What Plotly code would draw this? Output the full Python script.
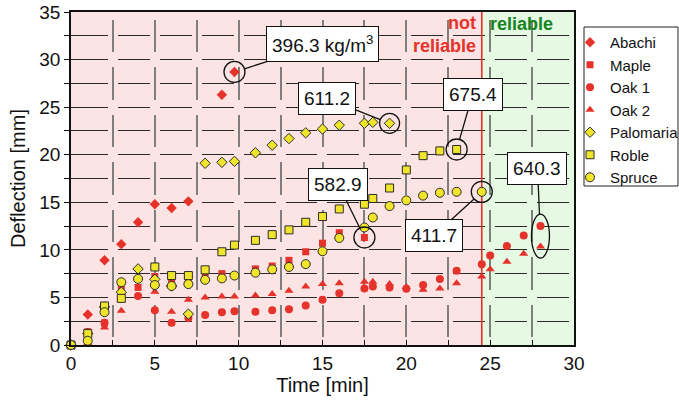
import plotly.graph_objects as go

# ---------------- data ----------------
t_abachi = [0, 1, 2, 3, 4, 5, 6, 7, 9, 9.75]
abachi = [0, 3.2, 8.9, 10.6, 12.9, 14.8, 14.4, 15.1, 26.3, 28.7]

t_maple = [1, 2, 3, 4, 5, 6, 7, 8, 9, 11, 12, 13, 14, 15, 16, 17.5]
maple = [1.4, 2.3, 5.95, 6.05, 7.2, 6.7, 6.8, 7.1, 7.5, 8.0, 8.3, 8.9, 9.8, 10.7, 11.8, 11.3]

t_oak1 = [0, 1, 2, 4, 5, 6, 7, 8, 9, 9.75, 11, 12, 13, 14, 15, 16, 17.5, 18, 19, 20, 21, 22, 23,
          24.5, 25, 26, 27, 28]
oak1 = [0, 0.3, 2.35, 5.15, 3.65, 2.35, 2.85, 3.15, 3.45, 3.55, 3.5, 3.65, 3.75, 4.15, 4.75, 5.45,
        5.95, 6.15, 6.05, 5.9, 6.3, 6.95, 7.8, 8.5, 9.4, 10.4, 11.5, 12.5]

t_oak2 = [0, 1, 2, 3, 5, 6, 7, 8, 9, 9.75, 11, 12, 13, 14, 15, 16, 17.5, 18, 19, 20, 21, 22, 23,
          24.5, 25, 26, 27, 28]
oak2 = [0, 0.2, 1.85, 3.6, 5.6, 3.5, 4.75, 5.0, 5.1, 5.1, 5.2, 5.35, 5.7, 6.15, 6.4, 6.5,
        6.65, 6.65, 6.4, 6.1, 5.8, 5.95, 6.5, 7.2, 7.95, 8.75, 9.6, 10.35]

t_palomaria = [0, 1, 2, 3, 4, 5, 6, 7, 8, 9, 9.75, 11, 12, 13, 14, 15, 16, 17.5, 18, 19]
palomaria = [0, 1.2, 4.0, 5.55, 8.0, 6.9, 6.2, 3.25, 19.1, 19.2, 19.3, 20.2, 21.0, 21.7, 22.3,
             22.7, 23.1, 23.3, 23.4, 23.3]

t_roble = [0, 1, 2, 3, 5, 6, 7, 8, 9, 9.75, 11, 12, 13, 14, 15, 16, 17.5, 18, 19, 20, 21, 22, 23]
roble = [0, 1.2, 4.1, 4.9, 8.2, 7.3, 7.3, 7.9, 9.8, 10.5, 11.0, 11.6, 12.1, 12.9, 13.5, 14.3,
         14.8, 15.4, 16.5, 18.4, 19.9, 20.4, 20.55]

t_spruce = [0, 1, 2, 3, 4, 5, 6, 7, 8, 9, 9.75, 11, 12, 13, 14, 15, 16, 17.5, 18, 19, 20, 21, 22,
            23, 24.5]
spruce = [0, 0.45, 3.45, 6.6, 6.95, 6.3, 6.2, 6.4, 6.85, 7.0, 7.3, 7.6, 7.95, 8.2, 8.5, 9.85,
          11.25, 12.35, 13.4, 14.6, 15.2, 15.7, 16.0, 16.1, 16.1]

reliable_limit = 24.5

# callouts: (x, y, text, ax, ay, half-width px, half-height px)
callouts = [
    (9.75, 28.7, "396.3 kg/m<sup>3</sup>", 88, -28, 10.5, 10.5),
    (19, 23.3, "611.2", -63, -25, 10, 10),
    (23, 20.55, "675.4", 16, -55, 10.5, 10.5),
    (17.5, 11.3, "582.9", -26, -53, 10.5, 10.5),
    (24.5, 16.1, "411.7", -48, 44, 10.5, 10.5),
    (28, 11.45, "640.3", -3, -68, 9, 22),
]

# ---------------- style ----------------
RED = "#e5322a"
YEL = "#f0e52a"
EDGE = "#2b2b2b"
FONT = "Liberation Sans, Arial, Helvetica, sans-serif"
W, H = 679, 403
ML, MR, MT, MB = 71, 105, 12, 58
PW, PH = W - ML - MR, H - MT - MB


def px_to_paper(px, py):
    # page pixel -> paper coordinate
    return (px - ML) / PW, (H - MB - py) / PH


series = [
    ("Abachi", t_abachi, abachi, "diamond", RED, 8, 0),
    ("Maple", t_maple, maple, "square", RED, 7, 0),
    ("Oak 1", t_oak1, oak1, "circle", RED, 8, 0),
    ("Oak 2", t_oak2, oak2, "triangle-up", RED, 8, 0),
    ("Palomaria", t_palomaria, palomaria, "diamond", YEL, 8, 1),
    ("Roble", t_roble, roble, "square", YEL, 8, 1),
    ("Spruce", t_spruce, spruce, "circle", YEL, 9, 1),
]

fig = go.Figure()
for name, xs, ys, sym, col, size, lw in series:
    fig.add_trace(go.Scatter(
        x=xs, y=ys, mode="markers", name=name, cliponaxis=False,
        marker=dict(symbol=sym, color=col, size=size,
                    line=dict(color=EDGE, width=lw)),
    ))

lx0, ly1 = px_to_paper(584, 27)
lx1, ly0 = px_to_paper(678, 186)
shapes = [
    dict(type="rect", xref="x", yref="y", x0=0, x1=reliable_limit, y0=0, y1=35,
         fillcolor="#fde4e4", line_width=0, layer="below"),
    dict(type="rect", xref="x", yref="y", x0=reliable_limit, x1=30, y0=0, y1=35,
         fillcolor="#e5f9e3", line_width=0, layer="below"),
    dict(type="line", xref="x", yref="y", x0=reliable_limit, x1=reliable_limit, y0=0, y1=35,
         line=dict(color=RED, width=1.6), layer="between"),
    # legend frame
    dict(type="rect", xref="paper", yref="paper", x0=lx0, x1=lx1, y0=ly0, y1=ly1,
         line=dict(color="#222", width=1), fillcolor="rgba(0,0,0,0)"),
]
annotations = []
for (cx, cy, txt, ax, ay, rx, ry) in callouts:
    shapes.append(dict(type="circle", xref="x", yref="y", xsizemode="pixel", ysizemode="pixel",
                       xanchor=cx, yanchor=cy, x0=-rx, x1=rx, y0=-ry, y1=ry,
                       line=dict(color="#111", width=1.3), layer="above"))
    annotations.append(dict(x=cx, y=cy, xref="x", yref="y", text=txt, showarrow=True,
                            arrowhead=0, arrowwidth=1.3, arrowcolor="#111", ax=ax, ay=ay,
                            standoff=ry, bgcolor="white", bordercolor="#111", borderwidth=1,
                            borderpad=5, font=dict(family=FONT, size=19, color="#111")))

annotations.append(dict(x=24.3, y=32.6, xref="x", yref="y", text="<b>not<br>reliable</b>",
                        showarrow=False, xanchor="right", yanchor="middle", align="right",
                        font=dict(family=FONT, size=18, color=RED)))
annotations.append(dict(x=24.85, y=33.7, xref="x", yref="y", text="<b>reliable</b>",
                        showarrow=False, xanchor="left", yanchor="middle",
                        font=dict(family=FONT, size=18, color="#15841e")))

h_dash = "36.9px,10px," + ",".join(["31.9px,10px"] * 11)
v_dash = "0px,7.5px," + ",".join(["32.5px,15px"] * 7)

fig.update_layout(
    width=W, height=H,
    margin=dict(l=ML, r=MR, t=MT, b=MB, autoexpand=False),
    paper_bgcolor="white", plot_bgcolor="white",
    font=dict(family=FONT, color="#111"),
    shapes=shapes, annotations=annotations,
    legend=dict(xref="container", yref="container",
                x=570 / W, y=1 - 26 / H, xanchor="left", yanchor="top",
                bgcolor="rgba(0,0,0,0)", borderwidth=0,
                font=dict(family=FONT, size=15, color="#111"),
                tracegroupgap=0),
    showlegend=True,
)
fig.update_xaxes(
    range=[0, 30], dtick=5, tick0=0,
    ticks="inside", ticklen=5, tickwidth=1.2, tickcolor="#111",
    showgrid=True, gridcolor="#7f7f7f", gridwidth=1.5, griddash=v_dash,
    minor=dict(dtick=2.5, tick0=0, ticks="inside", ticklen=5, tickwidth=1.2, tickcolor="#111",
               showgrid=True, gridcolor="#7f7f7f", gridwidth=1.5, griddash=v_dash),
    showline=True, linecolor="#111", linewidth=1.5, mirror=True, zeroline=False,
    automargin=False, tickfont=dict(size=19), ticklabeloverflow="allow",
    title=dict(text="Time [min]", font=dict(size=20), standoff=2),
)
fig.update_yaxes(
    range=[0, 35], dtick=5, tick0=0,
    ticks="outside", ticklen=5, tickwidth=1.2, tickcolor="#111",
    showgrid=True, gridcolor="#2a2a2a", gridwidth=1.2, griddash=h_dash,
    minor=dict(dtick=2.5, tick0=0, ticks="outside", ticklen=5, tickwidth=1.2, tickcolor="#111",
               showgrid=True, gridcolor="#2a2a2a", gridwidth=1.2, griddash=h_dash),
    showline=True, linecolor="#111", linewidth=1.5, mirror=True, zeroline=False,
    automargin=False, tickfont=dict(size=19), ticklabeloverflow="allow",
    title=dict(text="Deflection [mm]", font=dict(size=20), standoff=8),
)

fig.write_html("out.html", config={"displayModeBar": False},
               post_script="document.body.style.margin='0';")
